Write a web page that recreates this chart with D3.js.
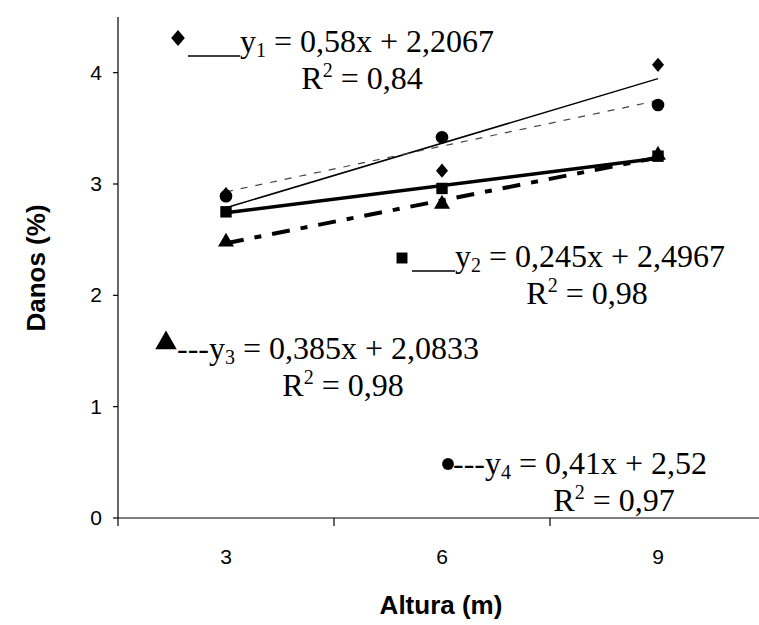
<!DOCTYPE html>
<html>
<head>
<meta charset="utf-8">
<script src="https://cdn.jsdelivr.net/npm/d3@7"></script>
<style>
  body { margin: 0; background: #fff; }
  svg { display: block; }
</style>
</head>
<body>
<div id="chart"></div>
<script>
// alturas (m) and damage per series
const heights = ["3", "6", "9"];
const y1Vals = [2.91, 3.12, 4.07];   // diamonds
const y2Vals = [2.75, 2.96, 3.25];   // squares
const y3Vals = [2.48, 2.82, 3.26];   // triangles
const y4Vals = [2.89, 3.42, 3.71];   // circles
const slopes = [0.58, 0.245, 0.385, 0.41];
const intercepts = [2.2067, 2.4967, 2.0833, 2.52];
const r2Vals = [0.84, 0.98, 0.98, 0.97];
const yTicks = [0, 1, 2, 3, 4];

var width = 759, height = 625;

var svg = d3.select("#chart").append("svg")
    .attr("width", width)
    .attr("height", height);

var x = d3.scaleBand()
    .domain(heights)
    .range([118, 766]);

var y = d3.scaleLinear()
    .domain([0, 4.5])
    .range([518, 17]);

function cx(h) { return x(h) + x.bandwidth() / 2; }

// fatter diamond than d3.symbolDiamond
var fatDiamond = {
  draw: function(ctx, size) {
    var h = Math.sqrt(size / 1.7), w = h * 0.85;
    ctx.moveTo(0, -h);
    ctx.lineTo(w, 0);
    ctx.lineTo(0, h);
    ctx.lineTo(-w, 0);
    ctx.closePath();
  }
};

// axes
var axes = svg.append("g").attr("stroke", "#000").attr("stroke-width", 1.2);
axes.append("line")
    .attr("x1", 118).attr("x2", 118)
    .attr("y1", y(4.5)).attr("y2", y(0));
axes.append("line")
    .attr("x1", 118).attr("x2", width)
    .attr("y1", y(0)).attr("y2", y(0));

axes.selectAll(".ytick")
    .data(yTicks)
    .enter().append("line")
    .attr("x1", 113).attr("x2", 118)
    .attr("y1", function(d) { return y(d); })
    .attr("y2", function(d) { return y(d); });

axes.selectAll(".xtick")
    .data(heights)
    .enter().append("line")
    .attr("x1", function(d) { return x(d); })
    .attr("x2", function(d) { return x(d); })
    .attr("y1", y(0)).attr("y2", y(0) + 8);

svg.selectAll(".ylab")
    .data(yTicks)
    .enter().append("text")
    .attr("x", 102)
    .attr("y", function(d) { return y(d) + 7; })
    .attr("text-anchor", "end")
    .style("font", "21px 'Liberation Sans', Arial, sans-serif")
    .text(function(d) { return d; });

svg.selectAll(".xlab")
    .data(heights)
    .enter().append("text")
    .attr("x", function(d) { return cx(d); })
    .attr("y", 564)
    .attr("text-anchor", "middle")
    .style("font", "21px 'Liberation Sans', Arial, sans-serif")
    .text(function(d) { return d; });

svg.append("text")
    .attr("x", 441).attr("y", 614)
    .attr("text-anchor", "middle")
    .style("font", "bold 26px 'Liberation Sans', Arial, sans-serif")
    .text("Altura (m)");

svg.append("text")
    .attr("transform", "translate(45,268) rotate(-90)")
    .attr("text-anchor", "middle")
    .style("font", "bold 26px 'Liberation Sans', Arial, sans-serif")
    .text("Danos (%)");

// trend lines
var lineStyles = [
  { w: 1.5, dash: null, color: "#000" },
  { w: 3.5, dash: null, color: "#000" },
  { w: 4, dash: "18,11,7,11", color: "#000" },
  { w: 1.2, dash: "7,8", color: "#444" }
];

slopes.forEach(function(s, k) {
  var first = heights[0], last = heights[heights.length - 1];
  svg.append("line")
      .attr("x1", cx(first)).attr("y1", y(s * 1 + intercepts[k]))
      .attr("x2", cx(last)).attr("y2", y(s * heights.length + intercepts[k]))
      .attr("stroke", lineStyles[k].color)
      .attr("stroke-width", lineStyles[k].w)
      .attr("stroke-dasharray", lineStyles[k].dash);
});

// markers
var sym = {
  diamond: d3.symbol().type(fatDiamond).size(85),
  triangle: d3.symbol().type(d3.symbolTriangle).size(110),
  square: d3.symbol().type(d3.symbolSquare).size(130),
  circle: d3.symbol().type(d3.symbolCircle).size(125)
};

var series = [
  { vals: y1Vals, s: "diamond" },
  { vals: y3Vals, s: "triangle" },
  { vals: y2Vals, s: "square" },
  { vals: y4Vals, s: "circle" }
];

series.forEach(function(se) {
  svg.append("g").selectAll("path")
      .data(se.vals)
      .enter().append("path")
      .attr("d", sym[se.s])
      .attr("fill", "#000")
      .attr("transform", function(d, i) {
        return "translate(" + cx(heights[i]) + "," + y(d) + ")";
      });
});

// equation labels
function fmt(v) { return String(v).replace(".", ","); }

var notes = [
  { s: "diamond", mx: 178, tx: 240, base: 52, dy: -14, rx: 362, prefix: "line", lx: 188 },
  { s: "square", mx: 402, tx: 455, base: 267, dy: -9, rx: 587, prefix: "line", lx: 412 },
  { s: "triangle", mx: 166, tx: 177, base: 359, dy: -16, rx: 343, prefix: "---" },
  { s: "circle", mx: 448, tx: 453, base: 474, dy: -10, rx: 614, prefix: "---" }
];

var serif = "32px 'Liberation Serif', 'Times New Roman', serif";
var noteSym = {
  diamond: d3.symbol().type(fatDiamond).size(110),
  square: d3.symbol().type(d3.symbolSquare).size(120),
  triangle: d3.symbol().type(d3.symbolTriangle).size(200),
  circle: d3.symbol().type(d3.symbolCircle).size(110)
};

notes.forEach(function(n, k) {
  var g = svg.append("g");
  g.append("path")
      .attr("d", noteSym[n.s])
      .attr("transform", "translate(" + n.mx + "," + (n.base + n.dy) + ")");
  if (n.prefix === "line") {
    g.append("line")
        .attr("x1", n.lx).attr("x2", n.tx)
        .attr("y1", n.base + 4).attr("y2", n.base + 4)
        .attr("stroke", "#000").attr("stroke-width", 1.3);
  }
  var t = g.append("text")
      .attr("x", n.tx).attr("y", n.base)
      .style("font", serif);
  t.append("tspan").text((n.prefix === "---" ? "---" : "") + "y");
  t.append("tspan").attr("dy", 5).style("font-size", "20px").text(k + 1);
  t.append("tspan").attr("dy", -5)
      .text(" = " + fmt(slopes[k]) + "x + " + fmt(intercepts[k]));

  var r = g.append("text")
      .attr("x", n.rx).attr("y", n.base + 37)
      .attr("text-anchor", "middle")
      .style("font", serif);
  r.append("tspan").text("R");
  r.append("tspan").attr("dy", -12).style("font-size", "20px").text("2");
  r.append("tspan").attr("dy", 12).text(" = " + fmt(r2Vals[k]));
});
</script>
</body>
</html>
